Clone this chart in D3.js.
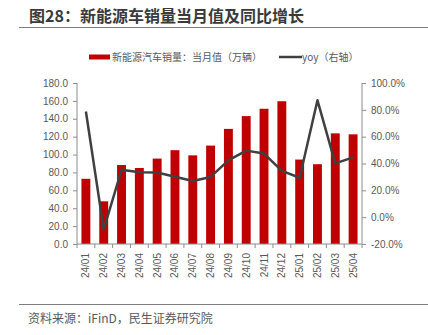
<!DOCTYPE html>
<html><head><meta charset="utf-8">
<script src="https://cdn.jsdelivr.net/npm/d3@7"></script>
<style>body{margin:0;background:#fff;}svg{display:block;}</style>
</head><body>
<svg id="c" width="428" height="335"></svg>
<script>
const categories = ["24/01","24/02","24/03","24/04","24/05","24/06","24/07","24/08","24/09","24/10","24/11","24/12","25/01","25/02","25/03","25/04"];
const sales = [72.9,47.7,88.3,85.0,95.5,104.9,99.1,110.0,128.7,143.0,151.2,159.6,94.4,89.2,123.7,122.6];
const yoy = [78.8,-9.2,35.3,33.5,33.3,30.1,27.0,30.0,42.3,49.6,47.4,34.5,29.4,87.1,40.1,44.6];
const leftTicks = [0,20,40,60,80,100,120,140,160,180];
const rightTicks = [-20,0,20,40,60,80,100];
const title = "图28：新能源车销量当月值及同比增长";
const legendBar = "新能源汽车销量：当月值（万辆）";
const legendLine = "yoy（右轴）";
const source = "资料来源：iFinD，民生证券研究院";

const svg = d3.select("#c");
const cjk = "'Noto Sans CJK SC', sans-serif";
const lat = "'Liberation Sans', Arial, sans-serif";
const textGray = "#595959";
const axisGray = "#8c8c8c";

const L = 77, R = 362, T = 83, B = 244;
const x = d3.scaleBand().domain(categories).range([L, R]).paddingInner(0.5).paddingOuter(0.25);
const yL = d3.scaleLinear().domain([0,180]).range([B,T]);
const yR = d3.scaleLinear().domain([-20,100]).range([B,T]);

// title
svg.append("text").attr("x",29).attr("y",22).attr("font-family",cjk).attr("font-weight","bold")
  .attr("font-size",16).attr("fill","#3a3a3a").text(title);
svg.append("line").attr("x1",19).attr("x2",428).attr("y1",27.5).attr("y2",27.5).attr("stroke","#7f7f7f").attr("stroke-width",1.2);

// legend
svg.append("rect").attr("x",89).attr("y",54.5).attr("width",21).attr("height",5).attr("fill","#C00000");
svg.append("text").attr("x",112).attr("y",61).attr("font-family",cjk).attr("font-size",10).attr("fill",textGray).text(legendBar);
svg.append("line").attr("x1",279).attr("x2",302).attr("y1",57).attr("y2",57).attr("stroke","#404040").attr("stroke-width",2.5);
svg.append("text").attr("x",302).attr("y",61).attr("font-family",cjk).attr("font-size",10).attr("fill",textGray).text(legendLine);

// bars
svg.append("g").selectAll("rect").data(sales).join("rect")
  .attr("x",(d,i)=>x(categories[i])).attr("width",x.bandwidth())
  .attr("y",d=>yL(d)).attr("height",d=>B-yL(d)).attr("fill","#C00000");

// line
const line = d3.line().x((d,i)=>x(categories[i])+x.bandwidth()/2).y(d=>yR(d));
svg.append("path").datum(yoy).attr("d",line).attr("fill","none").attr("stroke","#404040")
  .attr("stroke-width",2.5).attr("stroke-linejoin","round");

// left axis
const gL = svg.append("g").attr("transform",`translate(${L},0)`)
  .call(d3.axisLeft(yL).tickValues(leftTicks).tickFormat(d3.format(".1f")).tickSize(4).tickPadding(5));
// right axis
const gR = svg.append("g").attr("transform",`translate(${R},0)`)
  .call(d3.axisRight(yR).tickValues(rightTicks).tickFormat(d=>d.toFixed(1)+"%").tickSize(4).tickPadding(5));
[gL,gR].forEach(g=>{
  g.select(".domain").attr("stroke",axisGray).attr("d", g===gL ? `M0,${T}V${B}` : `M0,${T}V${B}`);
  g.selectAll(".tick line").attr("stroke",axisGray);
  g.selectAll("text").attr("font-family",lat).attr("font-size",10).attr("fill",textGray);
});

// x axis
const gX = svg.append("g").attr("transform",`translate(0,${B})`)
  .call(d3.axisBottom(x).tickSize(0).tickPadding(0));
gX.select(".domain").attr("stroke",axisGray).attr("d",`M${L},0H${R}`);
const step = x.step();
const bounds = d3.range(categories.length+1).map(i=>L + i*(R-L)/categories.length);
gX.selectAll(".bt").data(bounds).join("line").attr("class","bt")
  .attr("x1",d=>d).attr("x2",d=>d).attr("y1",0).attr("y2",4).attr("stroke",axisGray);
gX.selectAll(".tick text").attr("font-family",lat).attr("font-size",10).attr("fill",textGray)
  .attr("text-anchor","end").attr("dy","0.35em")
  .attr("transform","translate(0,9) rotate(-90)");

// bottom line & source
svg.append("line").attr("x1",19).attr("x2",428).attr("y1",304.5).attr("y2",304.5).attr("stroke","#7f7f7f").attr("stroke-width",1.2);
svg.append("text").attr("x",28).attr("y",323).attr("font-family",cjk).attr("font-size",12).attr("fill",textGray).text(source);
</script>
</body></html>
